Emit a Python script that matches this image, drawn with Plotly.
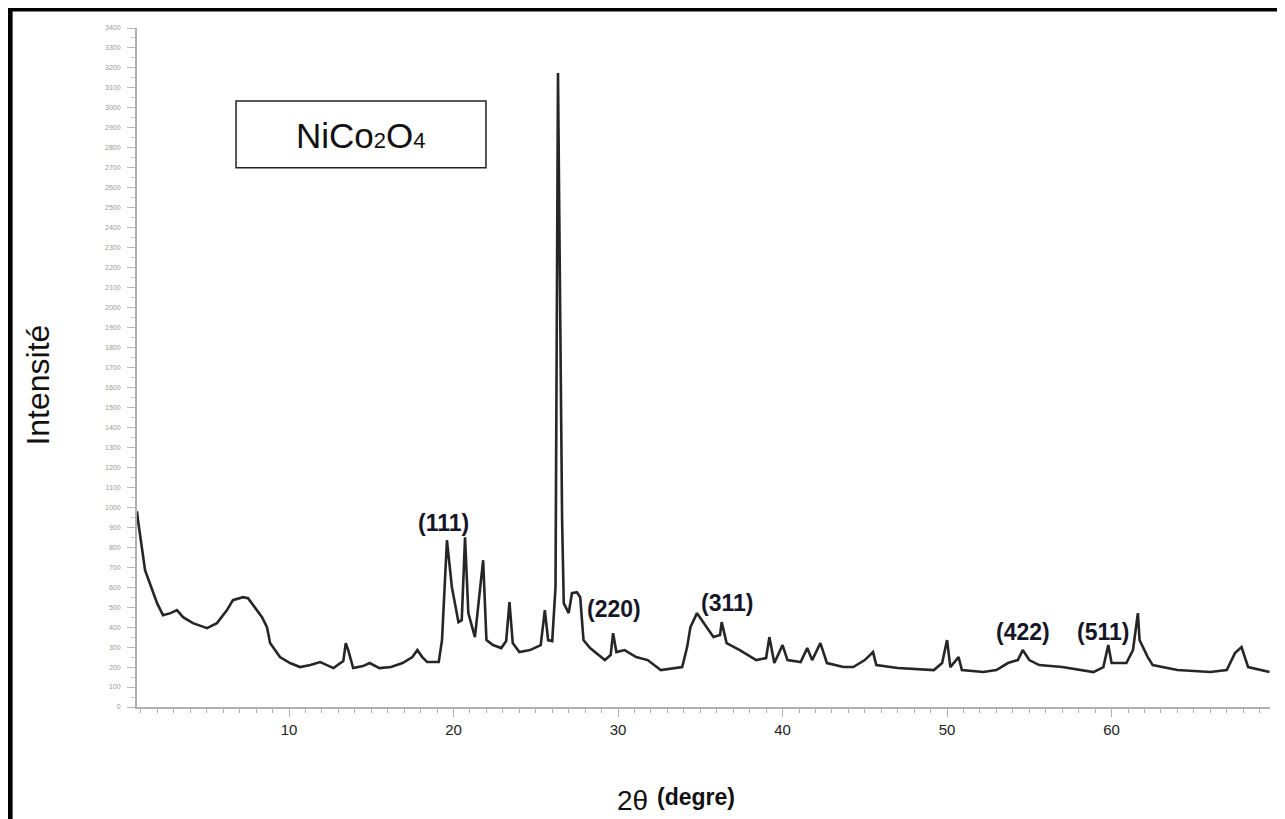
import plotly.graph_objects as go

two_theta = [0.76, 0.82, 1.25, 1.98, 2.34, 2.8, 3.19, 3.56, 4.16, 5.02, 5.62, 6.23, 6.59, 7.2, 7.51, 7.81,
             8.36, 8.66, 8.85, 9.45, 10.06, 10.67, 11.3, 11.9, 12.7, 13.3, 13.45, 13.6, 13.9, 14.5, 14.9,
             15.5, 16.2, 16.9, 17.5, 17.8, 18.1, 18.4, 19.1, 19.3, 19.6, 19.9, 20.3, 20.5, 20.7, 20.9,
             21.3, 21.8, 22.0, 22.4, 22.9, 23.2, 23.4, 23.6, 24.0, 24.65, 25.3, 25.55, 25.75, 26.0, 26.2,
             26.35, 26.5, 26.6, 26.7, 27.0, 27.2, 27.5, 27.7, 27.9, 28.3, 29.2, 29.55, 29.7, 29.9, 30.4,
             31.1, 31.8, 32.6, 33.9, 34.2, 34.4, 34.8, 35.2, 35.8, 36.2, 36.3, 36.6, 37.4, 38.4, 39.0,
             39.2, 39.5, 40.0, 40.3, 41.1, 41.5, 41.8, 42.3, 42.7, 43.7, 44.3, 45.0, 45.5, 45.7, 47.0,
             49.2, 49.7, 50.0, 50.2, 50.7, 50.9, 52.2, 53.0, 53.7, 54.3, 54.6, 55.0, 55.6, 57.0, 58.3,
             58.9, 59.5, 59.8, 60.0, 60.9, 61.3, 61.6, 61.7, 62.2, 62.5, 64.0, 66.0, 67.0, 67.5, 67.9,
             68.3, 69.6]
intensity = [980, 935, 685, 520, 460, 470, 485, 450, 420, 395, 420, 485, 535, 550, 545, 510,
             450, 400, 320, 250, 220, 200, 210, 225, 195, 230, 320, 285, 195, 205, 220,
             195, 200, 220, 250, 285, 250, 225, 225, 335, 835, 600, 425, 435, 850, 470,
             350, 735, 335, 310, 295, 330, 525, 320, 275, 285, 310, 485, 335, 330, 600,
             3175, 1870, 940, 520, 470, 570, 575, 550, 335, 295, 235, 260, 370, 275, 285,
             250, 235, 185, 200, 300, 400, 470, 420, 350, 360, 425, 320, 285, 235, 245,
             350, 220, 310, 235, 225, 295, 235, 320, 220, 200, 200, 235, 275, 210, 195,
             185, 220, 335, 200, 250, 185, 175, 185, 220, 235, 285, 235, 210, 200, 185,
             175, 200, 310, 220, 220, 285, 470, 335, 250, 210, 185, 175, 185, 270, 300,
             200, 175]

peak_labels = ["(111)", "(220)", "(311)", "(422)", "(511)"]
peak_x = [19.4, 29.75, 36.6, 54.6, 59.5]
peak_y = [920, 490, 520, 375, 375]

x_ticks = [10, 20, 30, 40, 50, 60]
y_ticks = list(range(0, 3500, 100))

FONT = "Arial, Liberation Sans, sans-serif"
NARROW = "Liberation Sans Narrow, Arial Narrow, Arial, Liberation Sans, sans-serif"

fig = go.Figure()
fig.add_trace(go.Scatter(x=two_theta, y=intensity, mode="lines",
                         line=dict(color="#262626", width=2.6), showlegend=False))

for lab, px, py in zip(peak_labels, peak_x, peak_y):
    fig.add_annotation(x=px, y=py, text="<b>" + lab + "</b>", showarrow=False,
                       xanchor="center", yanchor="middle",
                       font=dict(family=NARROW, size=23, color="#151528"))

# sample name box
fig.add_shape(type="rect", xref="paper", yref="paper", x0=0.0874, x1=0.308, y0=0.794, y1=0.8925,
              line=dict(color="#222", width=1.5), fillcolor="white")
fig.add_annotation(xref="paper", yref="paper", x=0.198, y=0.842, showarrow=False,
                   xanchor="center", yanchor="middle",
                   text="NiCo<span style='font-size:22px'>2</span>O<span style='font-size:22px'>4</span>",
                   font=dict(family=FONT, size=35, color="#111"))

# outer frame
fig.add_shape(type="rect", xref="paper", yref="paper", x0=-0.112, x1=1.0085, y0=-0.2, y1=1.028,
              line=dict(color="black", width=5))

# axis titles
fig.add_annotation(xref="paper", yref="paper", x=-0.087, y=0.474, showarrow=False, textangle=-90,
                   xanchor="center", yanchor="middle",
                   text="Intensité", font=dict(family=FONT, size=32, color="#111"))
fig.add_annotation(xref="paper", yref="paper", x=0.437, y=-0.137, showarrow=False,
                   xanchor="center", yanchor="middle",
                   text="2θ", font=dict(family=FONT, size=28, color="#111"))
fig.add_annotation(xref="paper", yref="paper", x=0.4935, y=-0.132, showarrow=False,
                   xanchor="center", yanchor="middle",
                   text="<b>(degre)</b>", font=dict(family=FONT, size=23, color="#111"))

fig.update_layout(
    width=1285, height=819,
    margin=dict(l=129, r=23, t=20, b=120),
    paper_bgcolor="white", plot_bgcolor="white",
    xaxis=dict(range=[0.76, 69.63], tickvals=x_ticks, showgrid=False, zeroline=False,
               showline=True, linecolor="#b0b0b0", linewidth=2,
               ticks="outside", ticklen=8, tickcolor="#b0b0b0", tickwidth=1,
               minor=dict(dtick=1, ticks="outside", ticklen=4, tickcolor="#b0b0b0"),
               tickfont=dict(family=FONT, size=15, color="#222"),
               tickprefix="<b>", ticksuffix="</b>"),
    yaxis=dict(range=[0, 3400], tickvals=y_ticks, showgrid=False, zeroline=False,
               showline=True, linecolor="#b0b0b0", linewidth=2,
               ticks="outside", ticklen=8, tickcolor="#b8b8b8", tickwidth=1,
               minor=dict(dtick=50, ticks="outside", ticklen=4, tickcolor="#c8c8c8"),
               tickfont=dict(family=FONT, size=7, color="#999999"),
               ticklabelstandoff=5),
)

fig.write_html("out.html")
